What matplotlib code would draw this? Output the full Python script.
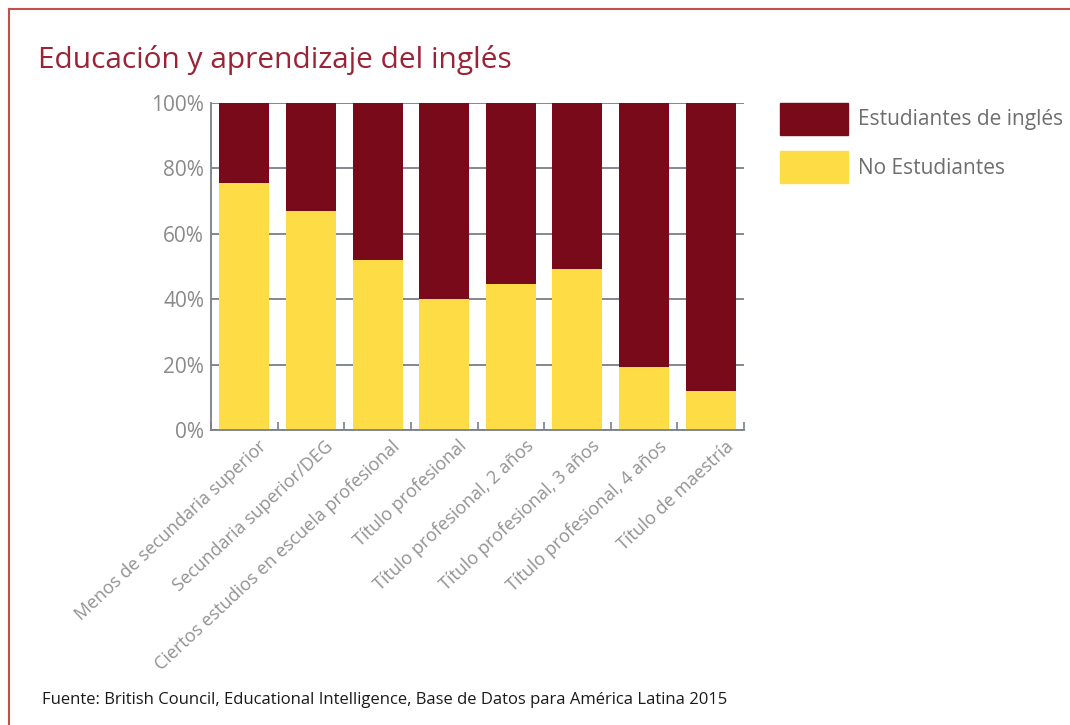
import matplotlib.pyplot as plt
from matplotlib.lines import Line2D
from matplotlib.patches import Patch
from matplotlib.transforms import ScaledTranslation
import numpy as np

categories = ["Menos de secundaria superior", "Secundaria superior/DEG",
              "Ciertos estudios en escuela profesional", "Título profesional",
              "Título profesional, 2 años", "Título profesional, 3 años",
              "Título profesional, 4 años", "Título de maestría"]
no_estudiantes = [75.4, 67.0, 52.0, 40.0, 44.5, 49.3, 19.2, 11.8]
estudiantes = [100 - v for v in no_estudiantes]
y_ticks = [0, 20, 40, 60, 80, 100]

plt.rcParams["font.family"] = ["Open Sans", "DejaVu Sans"]

dark_red = "#790a1a"
yellow = "#fddc46"
grey = "#8a8a8a"
axis_grey = "#7a7f88"

W, H = 1070, 725
fig = plt.figure(figsize=(W / 100, H / 100), dpi=100)
ax = fig.add_axes([211 / W, 1 - 430 / H, (744 - 211) / W, (430 - 103) / H])

x = np.arange(len(categories))
ax.bar(x, no_estudiantes, width=0.75, color=yellow, zorder=2)
ax.bar(x, estudiantes, width=0.75, bottom=no_estudiantes, color=dark_red, zorder=2)

ax.set_xlim(-0.5, len(categories) - 0.5)
ax.set_ylim(0, 100)
ax.set_yticks(y_ticks)
ax.set_yticklabels([f"{v}%" for v in y_ticks], fontsize=15, color=grey)
ax.yaxis.grid(True, color=axis_grey, linewidth=1.3, zorder=0)
ax.tick_params(axis="y", length=0, pad=5)

# small tick marks between the bars
ax.set_xticks(np.arange(len(categories) + 1) - 0.5, minor=True)
ax.tick_params(axis="x", which="minor", direction="in", length=6, color=axis_grey, width=1.2)
ax.set_xticks(x)
ax.set_xticklabels(categories, rotation=43, ha="right", va="center",
                   rotation_mode="anchor", fontsize=13, color="#929292")
ax.tick_params(axis="x", which="major", length=0, pad=10)
shift = ScaledTranslation(20 / 100, 0, fig.dpi_scale_trans)
for lbl in ax.get_xticklabels():
    lbl.set_transform(lbl.get_transform() + shift)

for s in ["top", "right"]:
    ax.spines[s].set_visible(False)
for s in ["left", "bottom"]:
    ax.spines[s].set_color(axis_grey)
    ax.spines[s].set_linewidth(1.3)

handles = [Patch(color=dark_red, label="Estudiantes de inglés"),
           Patch(color=yellow, label="No Estudiantes")]
fig.legend(handles=handles, loc="upper left", bbox_to_anchor=(780 / W, 1 - 103 / H),
           frameon=False, fontsize=15, borderpad=0, borderaxespad=0,
           handlelength=3.27, handleheight=1.95, labelspacing=0.8,
           handletextpad=0.45, labelcolor="#6e6e6e")

fig.text(38 / W, 1 - 60 / H, "Educación y aprendizaje del inglés", fontsize=21.5,
         color="#9b2335", va="center", ha="left")
fig.text(42 / W, 1 - 700 / H,
         "Fuente: British Council, Educational Intelligence, Base de Datos para América Latina 2015",
         fontsize=12, color="#1a1a1a", va="center", ha="left")

# red frame: top and left edges only
fig.add_artist(Line2D([9 / W, 1], [1 - 9 / H, 1 - 9 / H], color="#c0504d", linewidth=1.5))
fig.add_artist(Line2D([9 / W, 9 / W], [0, 1 - 9 / H], color="#c0504d", linewidth=1.5))

fig.savefig("out.png", dpi=100)
